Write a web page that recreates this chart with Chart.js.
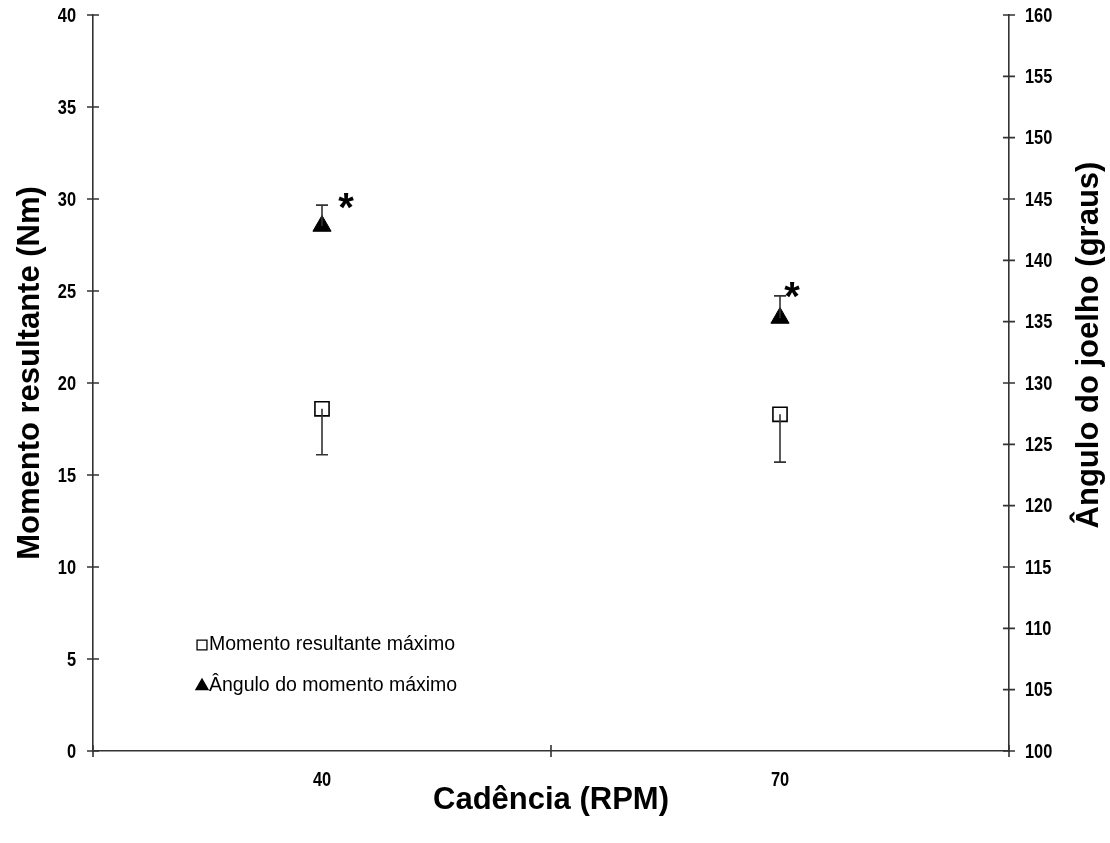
<!DOCTYPE html>
<html>
<head>
<meta charset="utf-8">
<script src="https://cdn.jsdelivr.net/npm/chart.js@4.4.0/dist/chart.umd.min.js"></script>
<style>
  html, body { margin: 0; padding: 0; background: #ffffff; }
  #wrap { position: relative; width: 1110px; height: 843px; }
</style>
</head>
<body>
<div id="wrap"><canvas id="chart"></canvas></div>
<script>
// Cadence categories (RPM)
const categories = ['40', '70'];

// Maximum resultant moment (Nm): mean and standard deviation
const momentMean = [18.6, 18.3];
const momentSD = [2.5, 2.6];

// Knee angle at maximum moment (degrees): mean and standard deviation
const angleMean = [142.8, 135.3];
const angleSD = [1.7, 1.8];

// Significance markers next to each angle point
const angleSignificance = ['*', '*'];

// Axis ranges and step
const momentAxis = { min: 0, max: 40, step: 5 };
const angleAxis = { min: 100, max: 160, step: 5 };

const seriesLabels = ['Momento resultante máximo', 'Ângulo do momento máximo'];
const axisTitles = {
  x: 'Cadência (RPM)',
  y: 'Momento resultante (Nm)',
  y2: 'Ângulo do joelho (graus)'
};

const INK = '#000000';
const AXIS = '#333333';
const TICK_FONT = "bold 20px 'Liberation Sans', Arial, sans-serif";
const TICK_SQUEEZE = 0.82;   // condensed look for the numeric labels
const TITLE_FONT = "bold 31px 'Liberation Sans', Arial, sans-serif";
const LEGEND_FONT = "19.5px 'Liberation Sans', Arial, sans-serif";

// Error bars: one-sided whiskers (down for moment, up for angle)
const errorBars = {
  id: 'errorBars',
  afterDatasetsDraw(chart) {
    const ctx = chart.ctx;
    chart.data.datasets.forEach((ds, di) => {
      const meta = chart.getDatasetMeta(di);
      const scale = chart.scales[ds.yAxisID];
      ctx.save();
      ctx.strokeStyle = AXIS;
      ctx.lineWidth = 1.6;
      meta.data.forEach((pt, i) => {
        const y0 = scale.getPixelForValue(ds.data[i]);
        const end = ds.data[i] + ds.errorDir * ds.errorSD[i];
        const y1 = scale.getPixelForValue(end);
        ctx.beginPath();
        ctx.moveTo(pt.x, y0);
        ctx.lineTo(pt.x, y1);
        ctx.moveTo(pt.x - 6, y1);
        ctx.lineTo(pt.x + 6, y1);
        ctx.stroke();
      });
      ctx.restore();
    });
  }
};

// Significance asterisks placed beside the upper whisker of the angle series
const significance = {
  id: 'significance',
  afterDatasetsDraw(chart, args, opts) {
    const ctx = chart.ctx;
    const ds = chart.data.datasets[1];
    const meta = chart.getDatasetMeta(1);
    const scale = chart.scales.y2;
    ctx.save();
    ctx.fillStyle = INK;
    ctx.font = opts.font;
    ctx.textAlign = 'center';
    ctx.textBaseline = 'alphabetic';
    meta.data.forEach((pt, i) => {
      const top = scale.getPixelForValue(ds.data[i] + ds.errorSD[i]);
      const off = opts.offsets[i];
      ctx.fillText(angleSignificance[i], pt.x + off[0], top + off[1] + opts.size * 0.56);
    });
    ctx.restore();
  }
};

// Crossing tick marks and condensed tick labels on all three axes
const axisDecor = {
  id: 'axisDecor',
  afterDraw(chart) {
    const ctx = chart.ctx;
    const len = 6;
    const ys = chart.scales.y, y2s = chart.scales.y2, xs = chart.scales.x;
    ctx.save();
    ctx.strokeStyle = AXIS;
    ctx.lineWidth = 1.6;
    ctx.beginPath();
    [ys, y2s].forEach(s => {
      const x = s === ys ? s.right : s.left;
      s.ticks.forEach((t, i) => {
        const y = s.getPixelForTick(i);
        ctx.moveTo(x - len, y);
        ctx.lineTo(x + len, y);
      });
    });
    for (let i = 0; i <= categories.length; i++) {
      const x = xs.getPixelForValue(i - 0.5);
      ctx.moveTo(x, xs.top - len);
      ctx.lineTo(x, xs.top + len);
    }
    ctx.stroke();

    ctx.fillStyle = INK;
    ctx.font = TICK_FONT;
    ctx.textBaseline = 'middle';
    ctx.scale(TICK_SQUEEZE, 1);
    ctx.textAlign = 'right';
    ys.ticks.forEach((t, i) => {
      ctx.fillText(String(t.value), (ys.right - 17) / TICK_SQUEEZE, ys.getPixelForTick(i) + 1);
    });
    ctx.textAlign = 'left';
    y2s.ticks.forEach((t, i) => {
      ctx.fillText(String(t.value), (y2s.left + 16) / TICK_SQUEEZE, y2s.getPixelForTick(i) + 1);
    });
    ctx.textAlign = 'center';
    xs.ticks.forEach((t, i) => {
      ctx.fillText(categories[i], xs.getPixelForTick(i) / TICK_SQUEEZE, xs.top + 29);
    });
    ctx.restore();
  }
};

// Axis titles
const axisTitlePlugin = {
  id: 'axisTitlePlugin',
  afterDraw(chart) {
    const ctx = chart.ctx;
    const area = chart.chartArea;
    ctx.save();
    ctx.fillStyle = INK;
    ctx.font = TITLE_FONT;
    ctx.textAlign = 'center';
    ctx.textBaseline = 'middle';
    ctx.fillText(axisTitles.x, (area.left + area.right) / 2, 800);
    ctx.save();
    ctx.translate(30, 373);
    ctx.rotate(-Math.PI / 2);
    ctx.fillText(axisTitles.y, 0, 0);
    ctx.restore();
    ctx.save();
    ctx.translate(1089, 345);
    ctx.rotate(-Math.PI / 2);
    ctx.fillText(axisTitles.y2, 0, 0);
    ctx.restore();
    ctx.restore();
  }
};

// Legend drawn inside the plot area, lower left
const innerLegend = {
  id: 'innerLegend',
  afterDraw(chart, args, opts) {
    const ctx = chart.ctx;
    ctx.save();
    ctx.font = LEGEND_FONT;
    ctx.textAlign = 'left';
    ctx.textBaseline = 'middle';
    chart.data.datasets.forEach((ds, i) => {
      const y = opts.y + i * opts.gap;
      ctx.fillStyle = ds.pointBackgroundColor;
      ctx.strokeStyle = INK;
      ctx.lineWidth = 1.3;
      ctx.beginPath();
      if (ds.pointStyle === 'rect') {
        const h = opts.markerRadius * Math.SQRT1_2;
        ctx.rect(opts.x - h, y - h, 2 * h, 2 * h);
      } else {
        const r = opts.markerRadius;
        ctx.moveTo(opts.x, y - r);
        ctx.lineTo(opts.x + r * Math.sin(2 * Math.PI / 3), y + r / 2);
        ctx.lineTo(opts.x - r * Math.sin(2 * Math.PI / 3), y + r / 2);
        ctx.closePath();
      }
      ctx.fill();
      ctx.stroke();
      ctx.fillStyle = INK;
      ctx.fillText(ds.label, opts.x + 7, y);
    });
    ctx.restore();
  }
};

new Chart(document.getElementById('chart'), {
  type: 'line',
  data: {
    labels: categories,
    datasets: [
      {
        label: seriesLabels[0],
        data: momentMean,
        errorSD: momentSD,
        errorDir: -1,
        yAxisID: 'y',
        showLine: false,
        pointStyle: 'rect',
        pointRadius: 10,
        pointHoverRadius: 10,
        pointBorderWidth: 1.6,
        pointBorderColor: INK,
        pointBackgroundColor: '#ffffff'
      },
      {
        label: seriesLabels[1],
        data: angleMean,
        errorSD: angleSD,
        errorDir: 1,
        yAxisID: 'y2',
        showLine: false,
        pointStyle: 'triangle',
        pointRadius: 10.5,
        pointHoverRadius: 10.5,
        pointBorderWidth: 1,
        pointBorderColor: INK,
        pointBackgroundColor: INK
      }
    ]
  },
  options: {
    responsive: true,
    maintainAspectRatio: false,
    animation: false,
    layout: { padding: { top: 15, left: 0, right: 0, bottom: 0 } },
    plugins: {
      legend: { display: false },
      tooltip: { enabled: false },
      significance: { font: "bold 40px 'Liberation Sans', Arial, sans-serif", size: 40, offsets: [[24, -7], [12, -8]] },
      innerLegend: { x: 202, y: 645, gap: 41, markerRadius: 7 }
    },
    scales: {
      x: {
        type: 'category',
        offset: true,
        grid: { display: false, drawTicks: false },
        border: { display: true, color: AXIS, width: 1.6 },
        ticks: { display: false },
        afterFit(s) { s.height = 92; s.paddingLeft = 0; s.paddingRight = 0; }
      },
      y: {
        position: 'left',
        min: momentAxis.min,
        max: momentAxis.max,
        grid: { display: false, drawTicks: false },
        border: { display: true, color: AXIS, width: 1.6 },
        ticks: { display: false, stepSize: momentAxis.step },
        afterFit(s) { s.width = 93; s.paddingTop = 0; s.paddingBottom = 0; }
      },
      y2: {
        position: 'right',
        min: angleAxis.min,
        max: angleAxis.max,
        grid: { display: false, drawTicks: false },
        border: { display: true, color: AXIS, width: 1.6 },
        ticks: { display: false, stepSize: angleAxis.step },
        afterFit(s) { s.width = 101; s.paddingTop = 0; s.paddingBottom = 0; }
      }
    }
  },
  plugins: [errorBars, significance, axisDecor, axisTitlePlugin, innerLegend]
});
</script>
</body>
</html>
